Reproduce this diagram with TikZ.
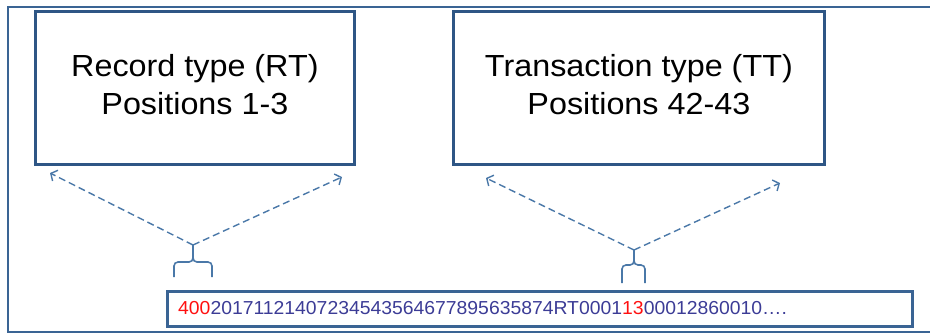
\documentclass[tikz,border=0pt]{standalone}
\usepackage{fontspec}
\setmainfont{Liberation Sans}
\usetikzlibrary{arrows.meta}
\definecolor{frameblue}{HTML}{3A6494}
\definecolor{boxblue}{HTML}{2E5685}
\definecolor{arrowblue}{HTML}{4A78A8}
\definecolor{txtblue}{HTML}{3C3C96}
\definecolor{txtred}{HTML}{FF1010}
\begin{document}
\begin{tikzpicture}[x=1pt,y=-1pt,
  labelbox/.style={draw=boxblue, line width=2.8pt, inner sep=0pt, minimum height=153pt, anchor=north west},
  labeltext/.style={inner sep=0pt, font=\fontsize{30.5}{38}\selectfont, text=black},
  stringbox/.style={draw=frameblue, line width=2.8pt, inner sep=0pt, minimum width=745pt, minimum height=35pt, anchor=north west},
  stringtext/.style={inner sep=0pt, anchor=base west, font=\fontsize{18.8}{22}\selectfont},
  bracepath/.style={draw=arrowblue, line width=1.6pt, rounded corners=4pt},
  dasharrow/.style={draw=arrowblue, line width=1.4pt, dash pattern=on 7pt off 4pt, -{Straight Barb[length=5pt,width=12pt]}}
]
\useasboundingbox (0,0) rectangle (930,333);
\draw[frameblue, line width=2pt] (960,7) -- (8,7) -- (8,332) -- (960,332);

\node[labelbox, minimum width=319pt] (rt) at (34,10) {};
\node[labeltext] (rtt) at (rt.center) {\scalebox{1.06}[1]{\begin{tabular}{@{}c@{}}Record type (RT)\\Positions 1-3\end{tabular}}};

\node[labelbox, minimum width=371pt] (tt) at (452,10) {};
\node[labeltext] (ttt) at (tt.center) {\scalebox{1.06}[1]{\begin{tabular}{@{}c@{}}Transaction type (TT)\\Positions 42-43\end{tabular}}};

\node[stringbox] (str) at (166,290) {};
\node[stringtext] (strt) at (178,314) {\scalebox{1.03}[1]{\textcolor{txtred}{400}\textcolor{txtblue}{20171121407234543564677895635874RT0001}\textcolor{txtred}{13}\textcolor{txtblue}{00012860010….}}};

% braces
\coordinate (b1) at (193,245);
\coordinate (b1m) at (193,262);
\draw[bracepath] (174,277) -- (174,262) -- (b1m) -- (b1);
\draw[bracepath] (212,277) -- (212,262) -- (b1m) -- (b1);
\coordinate (b2) at (634,250);
\coordinate (b2m) at (634,265);
\draw[bracepath] (622,283) -- (622,265) -- (b2m) -- (b2);
\draw[bracepath] (645,283) -- (645,265) -- (b2m) -- (b2);

% arrow targets
\coordinate (a1l) at (50,173);
\coordinate (a1r) at (342,177);
\coordinate (a2l) at (486,178);
\coordinate (a2r) at (780,183);
\draw[dasharrow] (b1) -- (a1l);
\draw[dasharrow] (b1) -- (a1r);
\draw[dasharrow] (b2) -- (a2l);
\draw[dasharrow] (b2) -- (a2r);
\end{tikzpicture}
\end{document}
